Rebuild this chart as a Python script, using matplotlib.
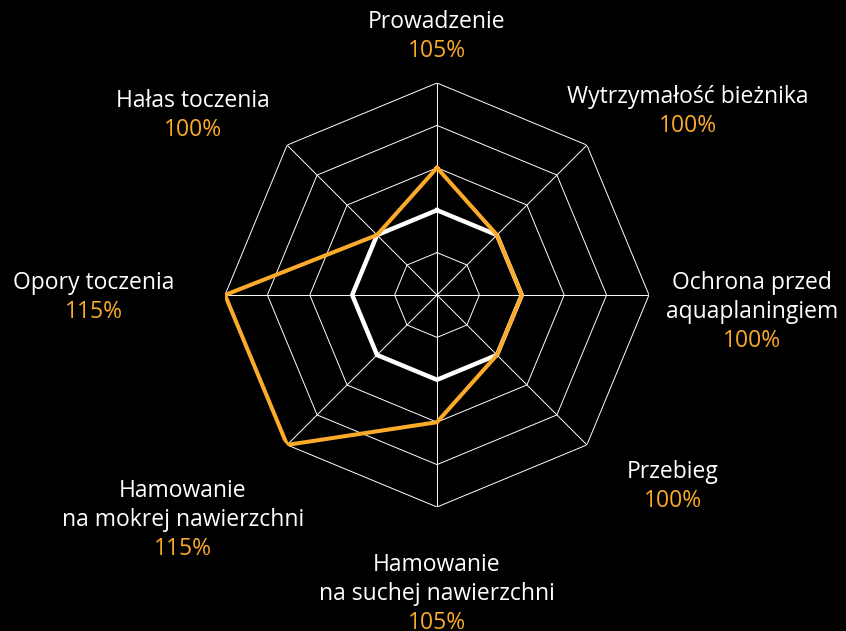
import matplotlib
matplotlib.use("Agg")
import matplotlib.pyplot as plt
import numpy as np

# chart data
categories = ["Prowadzenie", "Wytrzymałość bieżnika", "Ochrona przed\naquaplaningiem",
              "Przebieg", "Hamowanie\nna suchej nawierzchni", "Hamowanie\nna mokrej nawierzchni",
              "Opory toczenia", "Hałas toczenia"]
values = [105, 100, 100, 100, 105, 115, 115, 100]
reference = [100, 100, 100, 100, 100, 100, 100, 100]
pct_labels = ["105%", "100%", "100%", "100%", "105%", "115%", "115%", "100%"]
rings = [95, 100, 105, 110, 115]

ORANGE = "#FBAA2A"
plt.rcParams['font.family'] = ['Open Sans', 'DejaVu Sans']

fig = plt.figure(figsize=(8.46, 6.31), dpi=100, facecolor="black")
ax = fig.add_axes([225 / 846, 124 / 631, 424 / 846, 424 / 631], projection="polar")
ax.set_facecolor("black")
ax.set_theta_zero_location("N")
ax.set_theta_direction(-1)
ax.set_ylim(90, 115)
ax.grid(False)
ax.axis("off")

angles = np.linspace(0, 2 * np.pi, len(categories), endpoint=False)
closed = np.append(angles, angles[0])

# octagon grid rings and spokes
for r in rings:
    ax.plot(closed, [r] * len(closed), color="white", lw=0.7, zorder=1)
for a in angles:
    ax.plot([a, a], [90, rings[-1]], color="white", lw=0.7, zorder=1)

ax.plot(closed, reference + reference[:1], color="white", lw=3.2, zorder=3)
ax.plot(closed, values + values[:1], color=ORANGE, lw=2.9, zorder=4)

# labels (pixel positions of text centres in the 846x631 image)
label_pos = [(437, 22), (688, 97), (752, 283), (673, 472),
             (437, 565), (183, 491), (94, 283), (193, 101)]
line_h = 29
for name, pct, (x, y) in zip(categories, pct_labels, label_pos):
    lines = name.split("\n")
    for i, ln in enumerate(lines):
        fig.text(x / 846, 1 - (y + i * line_h) / 631, ln, color="white",
                 fontsize=16.5, ha="center", va="center")
    fig.text(x / 846, 1 - (y + len(lines) * line_h) / 631, pct, color=ORANGE,
             fontsize=16.5, ha="center", va="center")

fig.savefig("out.png", dpi=100, facecolor="black")
